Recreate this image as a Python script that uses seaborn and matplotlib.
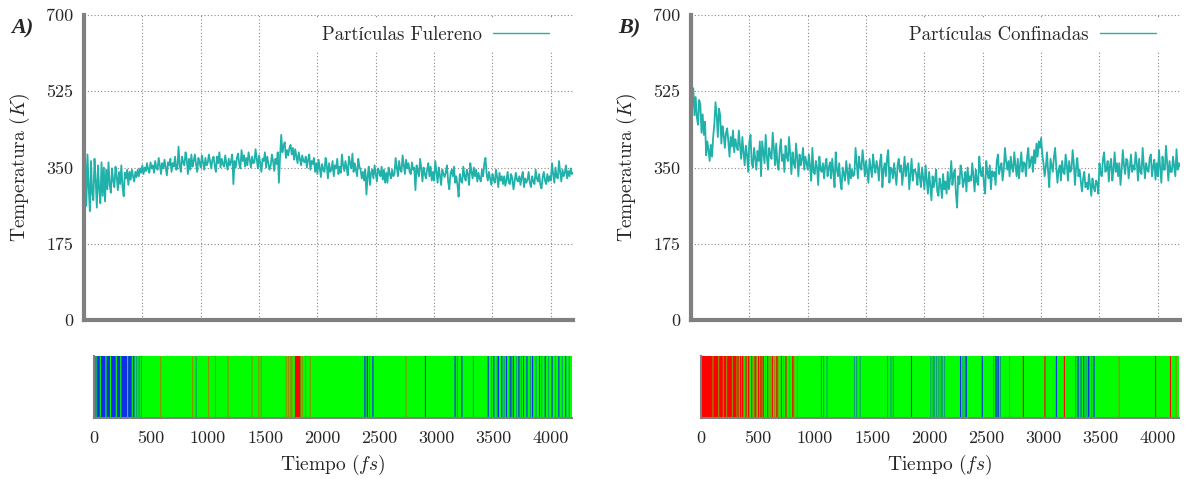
import numpy as np
import pandas as pd
import matplotlib
matplotlib.use("Agg")
import matplotlib.pyplot as plt
import seaborn as sns
from matplotlib.colors import to_rgb

# ---------------- data (10 fs per sample) ----------------
temp_fulereno = [
    233, 372, 262, 380, 305, 250, 365, 290, 275, 370, 320, 258, 355, 300, 268, 362, 285, 350, 272, 345,
    300, 362, 310, 292, 348, 320, 305, 352, 330, 298, 340, 312, 355, 306, 284, 338, 325, 345, 310, 340,
    322, 345, 330, 318, 340, 328, 345, 330, 348, 338, 355, 335, 350, 342, 360, 345, 338, 362, 348, 355,
    338, 365, 350, 345, 372, 355, 335, 360, 348, 368, 350, 332, 362, 355, 370, 340, 360, 352, 375, 345,
    348, 398, 355, 340, 375, 362, 355, 385, 370, 335, 370, 345, 380, 352, 365, 380, 358, 340, 372, 362,
    350, 378, 362, 345, 372, 355, 360, 380, 365, 348, 368, 375, 355, 340, 375, 360, 385, 350, 370, 358,
    352, 378, 360, 345, 370, 355, 365, 380, 312, 365, 350, 372, 382, 358, 348, 390, 365, 378, 352, 372,
    355, 385, 368, 350, 375, 360, 362, 392, 370, 348, 378, 360, 340, 370, 365, 385, 350, 375, 360, 345,
    355, 380, 365, 342, 370, 358, 385, 315, 375, 425, 385, 400, 408, 372, 390, 378, 395, 402, 380, 395,
    368, 392, 375, 360, 385, 370, 355, 378, 365, 362, 375, 350, 368, 380, 345, 365, 358, 372, 340, 360,
    335, 368, 350, 328, 358, 345, 340, 372, 355, 325, 360, 340, 345, 365, 330, 355, 348, 370, 335, 352,
    338, 380, 355, 342, 365, 350, 332, 375, 360, 348, 382, 340, 360, 345, 330, 370, 352, 345, 325, 340,
    320, 345, 288, 330, 352, 310, 338, 345, 325, 355, 335, 318, 348, 340, 330, 352, 322, 345, 315, 338,
    315, 350, 335, 325, 345, 330, 335, 372, 350, 330, 365, 345, 340, 378, 355, 335, 368, 348, 360, 340,
    335, 362, 345, 350, 298, 355, 340, 330, 370, 348, 318, 350, 335, 325, 345, 360, 330, 352, 320, 340,
    320, 365, 340, 315, 350, 332, 310, 345, 335, 328, 340, 355, 318, 300, 335, 345, 330, 352, 315, 330,
    310, 283, 335, 320, 315, 352, 330, 320, 345, 335, 310, 360, 340, 325, 350, 330, 345, 318, 338, 325,
    318, 345, 330, 360, 372, 335, 320, 340, 325, 310, 335, 322, 315, 345, 328, 305, 338, 320, 330, 312,
    330, 308, 322, 340, 315, 312, 335, 325, 300, 318, 338, 322, 318, 330, 310, 328, 340, 305, 325, 315,
    322, 340, 315, 305, 330, 318, 312, 345, 325, 318, 335, 310, 302, 328, 340, 320, 312, 335, 318, 330,
    320, 360, 335, 315, 350, 328, 325, 365, 340, 318, 345, 330, 338, 355, 325, 342, 330, 348, 335, 338,
]

temp_confinadas = [
    383, 490, 532, 470, 512, 465, 448, 505, 495, 430, 472, 425, 455, 378, 410, 390, 365, 402, 375, 420,
    450, 500, 470, 420, 485, 470, 405, 445, 425, 395, 430, 440, 410, 375, 420, 398, 435, 385, 415, 400,
    390, 435, 400, 370, 420, 385, 355, 400, 380, 340, 410, 425, 360, 350, 395, 372, 345, 388, 365, 410,
    330, 410, 385, 360, 425, 375, 345, 395, 380, 370, 430, 395, 355, 405, 360, 345, 390, 415, 365, 380,
    340, 400, 375, 365, 420, 380, 335, 385, 360, 350, 405, 372, 330, 380, 355, 368, 395, 345, 375, 360,
    345, 380, 352, 320, 395, 340, 335, 365, 350, 310, 375, 345, 340, 360, 325, 355, 370, 330, 348, 362,
    325, 370, 340, 305, 385, 345, 330, 360, 318, 300, 350, 335, 320, 365, 340, 312, 358, 325, 345, 330,
    335, 395, 360, 325, 375, 350, 345, 390, 362, 330, 365, 340, 315, 370, 348, 328, 380, 352, 338, 365,
    350, 320, 365, 380, 305, 345, 360, 330, 372, 390, 315, 350, 345, 325, 360, 335, 310, 355, 370, 340,
    355, 310, 340, 375, 330, 352, 360, 300, 335, 370, 320, 345, 345, 335, 310, 360, 328, 305, 350, 325,
    300, 355, 320, 290, 340, 310, 275, 330, 305, 320, 345, 295, 285, 325, 310, 280, 335, 300, 318, 290,
    340, 300, 325, 365, 310, 335, 345, 290, 258, 330, 312, 355, 340, 305, 320, 340, 295, 350, 318, 330,
    320, 360, 330, 295, 345, 318, 310, 375, 340, 330, 350, 312, 290, 365, 338, 325, 355, 300, 342, 330,
    340, 310, 365, 380, 335, 350, 360, 320, 345, 395, 365, 345, 365, 330, 375, 350, 340, 385, 355, 330,
    370, 325, 355, 385, 340, 362, 360, 330, 375, 395, 350, 365, 375, 340, 390, 360, 405, 375, 410, 395,
    418, 380, 360, 330, 350, 385, 340, 305, 370, 355, 340, 375, 395, 350, 315, 345, 355, 320, 365, 340,
    335, 380, 355, 320, 365, 340, 345, 390, 360, 310, 350, 372, 330, 345, 318, 295, 325, 340, 305, 315,
    300, 335, 310, 285, 325, 305, 295, 320, 315, 290, 360, 335, 330, 370, 385, 340, 345, 365, 318, 355,
    370, 320, 345, 385, 340, 360, 330, 360, 310, 345, 390, 355, 335, 370, 365, 325, 350, 380, 340, 355,
    345, 385, 360, 320, 370, 340, 335, 395, 355, 325, 360, 345, 340, 372, 380, 330, 352, 368, 322, 360,
    330, 390, 350, 315, 375, 345, 345, 400, 360, 320, 365, 340, 340, 375, 352, 330, 392, 345, 360, 352,
]

# colour strip: one code per 10 fs bin
# B=blue, G=green, R=red, T=blue/green mix, O=red/green mix
strip_fulereno = (
    "TTTBBGBBBBGBBBGBBBBG"
    "BBBGBBBBBGBBBGBTGTGT"
    "GTGGGGGGGGGGGGGGGGOG"
    "GGGGGGGGGGGGGGGGGGGG"
    "GGGGGGOGGTGGGGGGGGGG"
    "OGGGGGOGGGGGGGGGGOGG"
    "GGGGGGGGGGGGGGGGGGOG"
    "GGGGOGOGGGGGGGGGGGGG"
    "GGGGGGGGOGOGOOGGRRRR"
    "RGOGGOGGGOGGGGGGGGGG"
    "GGGGGGGGGGGGGGGGGGGG"
    "GGGGGGGGGGGGGGGGGBGB"
    "GTGGBGGGGGGGGGGGGGGG"
    "GGGGGGGGGGGGGOGGGGGG"
    "GGGGGGGGGGBGGGGGGGGG"
    "GGGGGGGGGGGGGGGGBGTG"
    "GGBGGGGGGGGGTGGGGGGG"
    "GGGGGBGGTGBGGTBGGBGT"
    "GBGGTBGBGGTGBGTGBGGB"
    "GGTGBGGTGGBGTGGBGGTG"
    "GBGGTGGBGGTGGBGGTGGG"
)
strip_confinadas = (
    "RRRRRRRRRRORRRRORRRO"
    "RRORRRRORRRORGROROGR"
    "GROGRGOROGRGRORGOGRG"
    "OGRGOGROGGRGOGRGGOGG"
    "ROGGOGGGGGGGGGGGGGGG"
    "GGGGGTGTGGTGGGGGGGGG"
    "GGGGGGGGGGGGGGTGTGGT"
    "GGGGGGGGGGGGGGGGGGGG"
    "GGGTGGTGTGGGGGGGGGGG"
    "GGGGBGGGGGGGGGGGGGGG"
    "GTGTTGTGTGTTGTGGGGGG"
    "GGGGGGGBGTGTBGGGGGGG"
    "GGGGGGBGGGGGGGGGTGBT"
    "BGTGGGGGGGOGGGGGGGGG"
    "GGRGGGGGGGGGGGGGGGGG"
    "GRGGGGGGGGGBGGGGGGRG"
    "GGGGGGGGTGBGTTGBGTGB"
    "TGTGBGGGGGGGGGGGGGGG"
    "GGGGGGOGGGGGGGGGGGGG"
    "GGGGGGGGGGGGGGGGGGRG"
    "GGGGGGGGGGGRGGGGOGGG"
)
code_colors = {"B": "#1030e8", "G": "#00ff00", "R": "#ff0000",
               "T": "#10a070", "O": "#909000"}

panel_tags = ["A)", "B)"]
legend_labels = ["Partículas Fulereno", "Partículas Confinadas"]
y_ticks = [0, 175, 350, 525, 700]
x_ticks = [0, 500, 1000, 1500, 2000, 2500, 3000, 3500, 4000]
STEP_FS = 10

# ---------------- style ----------------
sns.set_style("white")
plt.rcParams["font.family"] = ["cmr10", "Liberation Serif"]
plt.rcParams["mathtext.fontset"] = "cm"
plt.rcParams["axes.formatter.use_mathtext"] = True
plt.rcParams["axes.unicode_minus"] = False

LINE = "#20b2aa"
GREY = "#808080"

fig = plt.figure(figsize=(11.86, 4.79), dpi=100)

series = [temp_fulereno, temp_confinadas]
strips = [strip_fulereno, strip_confinadas]
left_main = [84 / 1186, 691 / 1186]
left_strip = [94 / 1186, 701 / 1186]
tag_x = [11 / 1186, 618 / 1186]
XMAX = 4190

for i in range(2):
    ax = fig.add_axes([left_main[i], 0.3319, 489 / 1186, 0.6367])
    temps = series[i]
    df = pd.DataFrame({"t": [STEP_FS * k for k in range(len(temps))], "T": temps})
    sns.lineplot(data=df, x="t", y="T", ax=ax, color=LINE, lw=1.3,
                 label=legend_labels[i])
    ax.set_xlim(0, XMAX)
    ax.set_ylim(0, 700)
    ax.set_yticks(y_ticks)
    ax.set_yticklabels([str(v) for v in y_ticks])
    ax.set_xticks(x_ticks[1:])
    ax.set_xticklabels([])
    ax.set_xlabel("")
    ax.grid(True, ls=(0, (1, 2)), color="#888888", lw=0.8)
    for s in ["top", "right"]:
        ax.spines[s].set_visible(False)
    for s in ["left", "bottom"]:
        ax.spines[s].set_color(GREY)
        ax.spines[s].set_linewidth(3)
    ax.tick_params(direction="in", length=5, width=2, color=GREY,
                   labelsize=13, pad=8)
    ax.set_ylabel(r"Temperatura $(K)$", fontsize=14)
    ax.yaxis.set_label_coords(-0.106, 0.5)
    leg = ax.legend(loc="upper right", bbox_to_anchor=(0.967, 0.99),
                    borderaxespad=0, frameon=True, fancybox=False,
                    framealpha=1, edgecolor="none", facecolor="white",
                    fontsize=13.5, handlelength=3.0, handletextpad=0.6,
                    markerfirst=False, borderpad=0.4)
    for h in leg.get_lines():
        h.set_linewidth(1.0)

    # colour strip
    codes = strips[i]
    sax = fig.add_axes([left_strip[i], 0.1273, 478 / 1186, 0.1294])
    rgb = np.array([[to_rgb(code_colors[c]) for c in codes]])
    sax.imshow(rgb, extent=(0, len(codes) * STEP_FS, 0, 1), aspect="auto",
               interpolation="antialiased")
    sax.set_xlim(0, XMAX)
    sax.set_ylim(0, 1)
    sax.set_xticks(x_ticks)
    sax.set_xticklabels([str(v) for v in x_ticks])
    sax.set_yticks([])
    for s in ["top", "right"]:
        sax.spines[s].set_visible(False)
    for s in ["left", "bottom"]:
        sax.spines[s].set_color(GREY)
        sax.spines[s].set_linewidth(1.5)
    sax.tick_params(axis="x", length=0, pad=9, labelsize=13)
    sax.set_xlabel(r"Tiempo $(fs)$", fontsize=14, labelpad=5)

    fig.text(tag_x[i], 1 - 28 / 479, panel_tags[i], fontsize=16,
             fontweight="bold", fontstyle="italic",
             family="Liberation Serif", va="center", ha="left")

fig.savefig("out.png", dpi=100)
